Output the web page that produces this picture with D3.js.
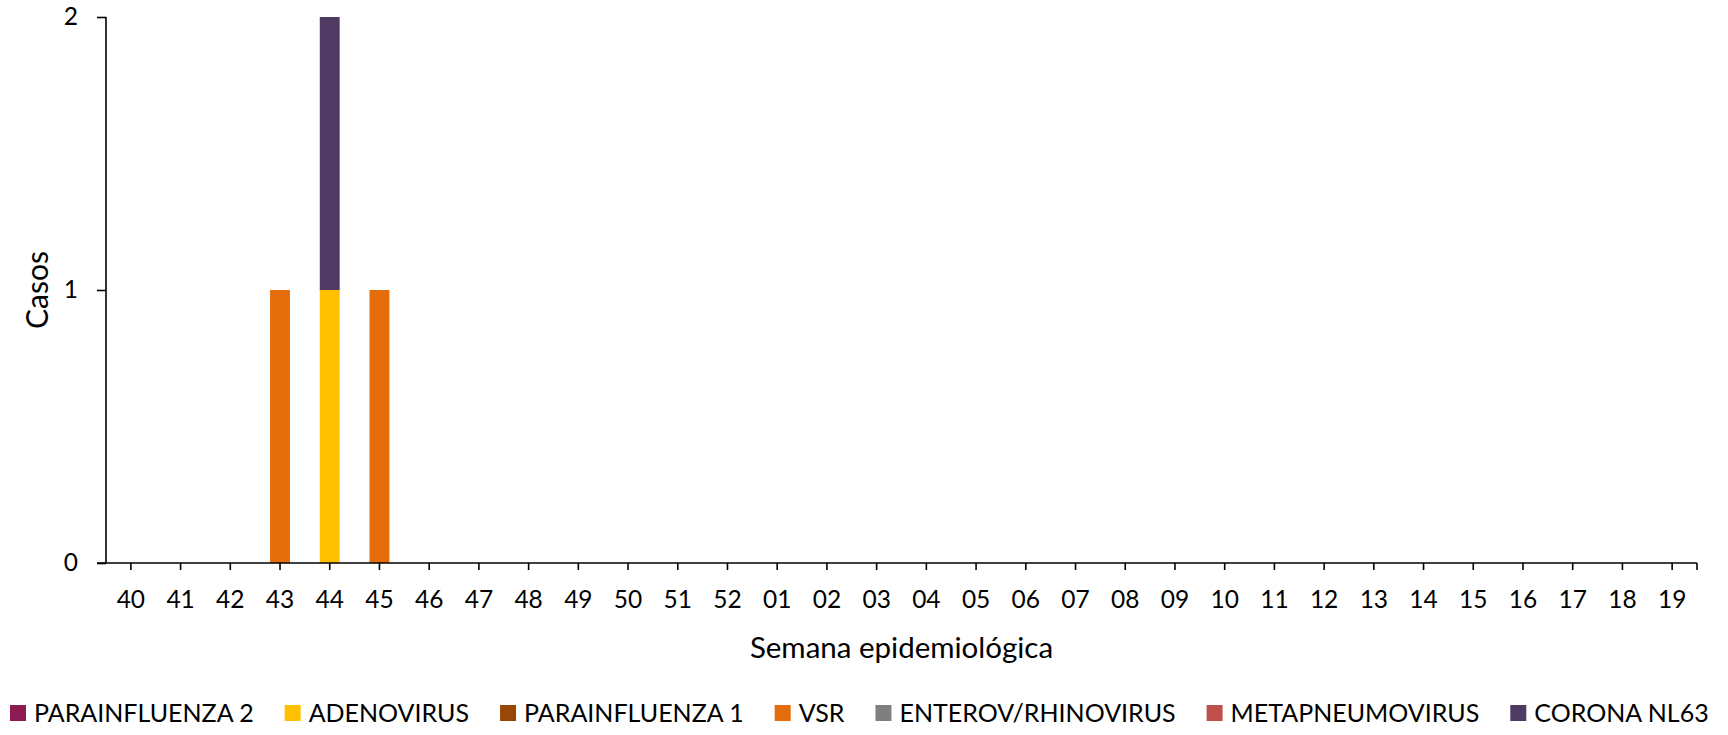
<!DOCTYPE html>
<html>
<head>
<meta charset="utf-8">
<script src="https://cdn.jsdelivr.net/npm/d3@7"></script>
<style>
  html, body { margin: 0; padding: 0; background: #fff; }
  svg { display: block; font-family: Lato, "Open Sans", sans-serif; }
</style>
</head>
<body>
<svg id="chart" width="1728" height="735"></svg>
<script>
const weeks = ["40","41","42","43","44","45","46","47","48","49","50","51","52",
  "01","02","03","04","05","06","07","08","09","10","11","12","13","14","15","16","17","18","19"];

const seriesNames = ["PARAINFLUENZA 2","ADENOVIRUS","PARAINFLUENZA 1","VSR","ENTEROV/RHINOVIRUS","METAPNEUMOVIRUS","CORONA NL63"];
const seriesColors = ["#8E1B52","#FFC000","#974706","#E46C0A","#7F7F7F","#C0504D","#4E3A62"];

const parainfluenza2 = [0,0,0,0,0,0,0,0,0,0,0,0,0,0,0,0,0,0,0,0,0,0,0,0,0,0,0,0,0,0,0,0];
const adenovirus     = [0,0,0,0,1,0,0,0,0,0,0,0,0,0,0,0,0,0,0,0,0,0,0,0,0,0,0,0,0,0,0,0];
const parainfluenza1 = [0,0,0,0,0,0,0,0,0,0,0,0,0,0,0,0,0,0,0,0,0,0,0,0,0,0,0,0,0,0,0,0];
const vsr            = [0,0,0,1,0,1,0,0,0,0,0,0,0,0,0,0,0,0,0,0,0,0,0,0,0,0,0,0,0,0,0,0];
const enterovRhino   = [0,0,0,0,0,0,0,0,0,0,0,0,0,0,0,0,0,0,0,0,0,0,0,0,0,0,0,0,0,0,0,0];
const metapneumo     = [0,0,0,0,0,0,0,0,0,0,0,0,0,0,0,0,0,0,0,0,0,0,0,0,0,0,0,0,0,0,0,0];
const coronaNL63     = [0,0,0,0,1,0,0,0,0,0,0,0,0,0,0,0,0,0,0,0,0,0,0,0,0,0,0,0,0,0,0,0];

const yTicks = [0, 1, 2];
const yTitle = "Casos";
const xTitle = "Semana epidemiológica";

const seriesValues = [parainfluenza2, adenovirus, parainfluenza1, vsr, enterovRhino, metapneumo, coronaNL63];

(function () {
  const table = weeks.map((w, i) => {
    const row = { week: w };
    seriesNames.forEach((s, k) => row[s] = seriesValues[k][i]);
    return row;
  });

  const svg = d3.select("#chart");
  const pL = 106, pR = 1697, pT = 17, pB = 563;
  const FS = 24.5;

  const x = d3.scaleBand().domain(weeks).range([pL, pR]).paddingInner(0.6).paddingOuter(0.3);
  const y = d3.scaleLinear().domain([0, 2]).range([pB, pT]);
  const color = d3.scaleOrdinal().domain(seriesNames).range(seriesColors);

  const stacked = d3.stack().keys(seriesNames)(table);

  svg.append("g").selectAll("g").data(stacked).join("g")
    .attr("fill", d => color(d.key))
    .selectAll("rect").data(d => d.filter(p => p[1] - p[0] > 0)).join("rect")
    .attr("x", d => x(d.data.week))
    .attr("width", x.bandwidth())
    .attr("y", d => y(d[1]))
    .attr("height", d => y(d[0]) - y(d[1]));

  const yAxis = svg.append("g").attr("transform", `translate(${pL},0)`)
    .call(d3.axisLeft(y).tickValues(yTicks).tickFormat(d3.format("d")).tickSize(9).tickPadding(19));
  yAxis.select(".domain").attr("d", `M0,${pT}V${pB}`).attr("stroke", "#000").attr("stroke-width", 1.6);
  yAxis.selectAll(".tick line").attr("stroke", "#000").attr("stroke-width", 1.6);
  yAxis.selectAll(".tick text").attr("font-size", FS).attr("font-family", "Lato").attr("fill", "#000");

  const xAxis = svg.append("g").attr("transform", `translate(0,${pB})`)
    .call(d3.axisBottom(x).tickSize(7).tickPadding(21));
  xAxis.select(".domain").attr("d", `M${pL - 9},0H${pR}`).attr("stroke", "#000").attr("stroke-width", 1.6);
  xAxis.selectAll(".tick line").attr("stroke", "#000").attr("stroke-width", 1.6);
  xAxis.selectAll(".tick text").attr("font-size", FS).attr("font-family", "Lato").attr("fill", "#000");
  xAxis.append("line").attr("x1", pR).attr("x2", pR).attr("y1", 0).attr("y2", 7)
    .attr("stroke", "#000").attr("stroke-width", 1.6);

  svg.append("text")
    .attr("transform", `translate(37,${(pT + pB) / 2}) rotate(-90)`)
    .attr("text-anchor", "middle")
    .attr("dy", "0.35em")
    .attr("font-size", 30).attr("fill", "#000")
    .text(yTitle);

  svg.append("text")
    .attr("x", (pL + pR) / 2).attr("y", 648)
    .attr("dy", "0.35em")
    .attr("text-anchor", "middle")
    .attr("font-size", 29.5).attr("fill", "#000")
    .text(xTitle);

  const legend = svg.append("g").attr("transform", "translate(10,713)");
  let cx = 0;
  seriesNames.forEach((name, k) => {
    const g = legend.append("g").attr("transform", `translate(${cx},0)`);
    g.append("rect").attr("x", 0).attr("y", -8).attr("width", 16).attr("height", 16).attr("fill", seriesColors[k]);
    const t = g.append("text").attr("x", 24).attr("dy", "0.35em").attr("font-size", 25).attr("fill", "#000").text(name);
    const w = t.node().getComputedTextLength();
    cx += 24 + w + 31;
  });
})();
</script>
</body>
</html>
